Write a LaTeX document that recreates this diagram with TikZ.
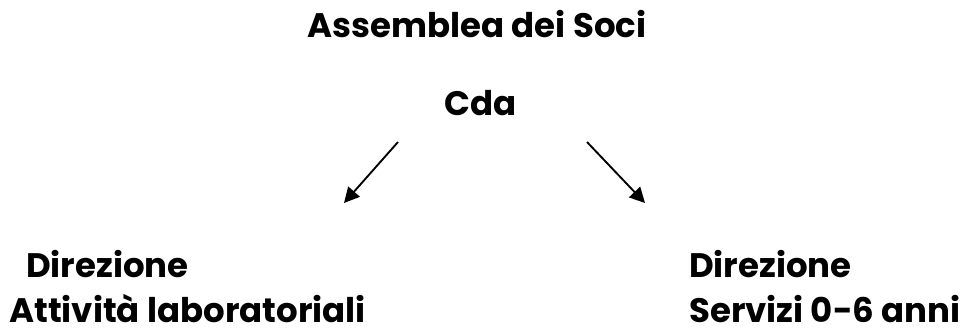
\documentclass[tikz,border=0pt]{standalone}
\usepackage{fontspec}
\setmainfont{Poppins}
\usetikzlibrary{arrows.meta}

\begin{document}
\begin{tikzpicture}[x=0.03cm, y=-0.03cm,
		label text/.style={inner sep=0pt, font=\fontsize{29}{34}\selectfont\bfseries},
		branch arrow/.style={line width=1.6pt, -{Triangle[length=13pt, width=13pt]}}]
		%%%%% START %%%%%
		
		\useasboundingbox (0, 0) rectangle (962, 329);
		
		\node[label text, anchor=base] (soci) at (477, 37) {Assemblea dei Soci};
		\node[label text, anchor=base] (cda) at (481, 115) {Cda};
		
		\node[label text, anchor=base west] (dirl) at (26, 277) {Direzione};
		\node[label text, anchor=base west] (attl) at (9, 322) {Attività laboratoriali};
		
		\node[label text, anchor=base west] (dirr) at (689, 277) {Direzione};
		\node[label text, anchor=base west] (serr) at (689, 322) {Servizi 0-6 anni};
		
		\coordinate (la) at (398, 142);
		\coordinate (lb) at (344, 203);
		\coordinate (ra) at (587, 142);
		\coordinate (rb) at (645, 203);
		
		\draw[branch arrow] (la) -- (lb);
		\draw[branch arrow] (ra) -- (rb);
		
		%%%%% END %%%%%
\end{tikzpicture}
\end{document}
